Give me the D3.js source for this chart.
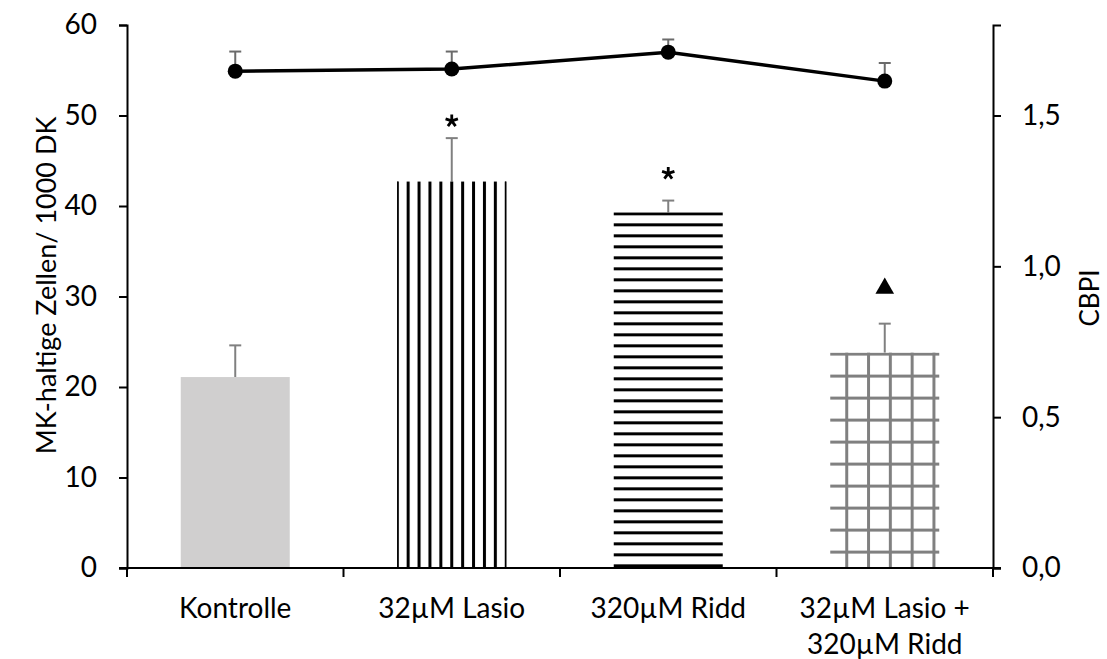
<!DOCTYPE html>
<html><head><meta charset="utf-8">
<script src="https://cdn.jsdelivr.net/npm/d3@7"></script>
<style>body{margin:0;background:#fff}text{font-family:Lato,"Open Sans",sans-serif;fill:#000}</style>
</head><body><svg id="c" width="1107" height="659"></svg>
<script>
const categories = [["Kontrolle"],["32µM Lasio"],["320µM Ridd"],["32µM Lasio +","320µM Ridd"]];
const barValues = [21.1, 42.7, 39.3, 23.8];
const barErrors = [3.5, 4.8, 1.3, 3.2];
const cbpiValues = [1.647, 1.654, 1.71, 1.614];
const cbpiErrors = [0.065, 0.058, 0.042, 0.06];
const marks = ["", "*", "*", "▲"];
const markLevels = [null, 49.4, 43.6, 30.9];
const leftTicks = [0,10,20,30,40,50,60];
const rightTicks = [0,0.5,1.0,1.5];

const svg = d3.select("#c");
const L = 127, R = 993, T = 25, B = 568;
const x = d3.scaleBand().domain(d3.range(categories.length)).range([L, R]).paddingInner(0).paddingOuter(0);
const yL = d3.scaleLinear().domain([0,60]).range([B, T]);
const yR = d3.scaleLinear().domain([0,1.8]).range([B, T]);
const bw = 109;
const cx = i => x(i) + x.bandwidth()/2;

const defs = svg.append("defs");
const pv = defs.append("pattern").attr("id","pv").attr("patternUnits","userSpaceOnUse")
  .attr("width",10.9).attr("height",20).attr("x", cx(1)-bw/2+9.4);
pv.append("rect").attr("x",0).attr("y",0).attr("width",3).attr("height",20).attr("fill","#000");
const ph = defs.append("pattern").attr("id","ph").attr("patternUnits","userSpaceOnUse")
  .attr("width",20).attr("height",11).attr("y", yL(barValues[2]));
ph.append("rect").attr("x",0).attr("y",0).attr("width",20).attr("height",3).attr("fill","#000");
const pg = defs.append("pattern").attr("id","pg").attr("patternUnits","userSpaceOnUse")
  .attr("width",21.8).attr("height",22).attr("x", cx(3)-bw/2+15).attr("y", yL(barValues[3]));
pg.append("rect").attr("x",0).attr("y",0).attr("width",3).attr("height",22).attr("fill","#808080");
pg.append("rect").attr("x",0).attr("y",0).attr("width",21.8).attr("height",3).attr("fill","#808080");
const fills = ["#d0cfcf","url(#pv)","url(#ph)","url(#pg)"];

barValues.forEach((v,i)=>{
  svg.append("line").attr("x1",cx(i)).attr("x2",cx(i)).attr("y1",yL(v)).attr("y2",yL(v+barErrors[i]))
    .attr("stroke","#808080").attr("stroke-width",2);
  svg.append("line").attr("x1",cx(i)-6).attr("x2",cx(i)+6).attr("y1",yL(v+barErrors[i])).attr("y2",yL(v+barErrors[i]))
    .attr("stroke","#808080").attr("stroke-width",2);
});
svg.selectAll("rect.bar").data(barValues).enter().append("rect").attr("class","bar")
  .attr("x",(d,i)=>cx(i)-bw/2).attr("width",bw)
  .attr("y",d=>yL(d)).attr("height",d=>B-yL(d)).attr("fill",(d,i)=>fills[i]);
[cx(1)-bw/2+0.5, cx(1)+bw/2-0.5].forEach(xx=>svg.append("line").attr("x1",xx).attr("x2",xx)
  .attr("y1",yL(barValues[1])).attr("y2",B).attr("stroke","#000").attr("stroke-width",1.2));

marks.forEach((m,i)=>{
  if(!m) return;
  const cy = yL(markLevels[i]);
  if(m==="*") {
    const r = 6.5;
    const d = d3.range(5).map(k=>{const a=-Math.PI/2+k*2*Math.PI/5;
      return `M${cx(i)},${cy}L${cx(i)+r*Math.cos(a)},${cy+r*Math.sin(a)}`;}).join("");
    svg.append("path").attr("d",d).attr("stroke","#000").attr("stroke-width",2.8).attr("stroke-linecap","butt").attr("fill","none");
  } else svg.append("path").attr("d",d3.symbol(d3.symbolTriangle,150)()).attr("fill","#000")
    .attr("transform",`translate(${cx(i)},${cy})`);
});

cbpiValues.forEach((v,i)=>{
  svg.append("line").attr("x1",cx(i)).attr("x2",cx(i)).attr("y1",yR(v)).attr("y2",yR(v+cbpiErrors[i]))
    .attr("stroke","#6b6b6b").attr("stroke-width",2);
  svg.append("line").attr("x1",cx(i)-6).attr("x2",cx(i)+6).attr("y1",yR(v+cbpiErrors[i])).attr("y2",yR(v+cbpiErrors[i]))
    .attr("stroke","#6b6b6b").attr("stroke-width",2);
});
svg.append("path").datum(cbpiValues).attr("fill","none").attr("stroke","#000").attr("stroke-width",3.5)
  .attr("d",d3.line().x((d,i)=>cx(i)).y(d=>yR(d)));
svg.selectAll("circle.pt").data(cbpiValues).enter().append("circle").attr("class","pt")
  .attr("cx",(d,i)=>cx(i)).attr("cy",d=>yR(d)).attr("r",7.5).attr("fill","#000");

const gl = svg.append("g").attr("transform",`translate(${L},0)`)
  .call(d3.axisLeft(yL).tickValues(leftTicks).tickSize(8).tickPadding(22).tickFormat(d3.format("d")));
const gr = svg.append("g").attr("transform",`translate(${R},0)`)
  .call(d3.axisRight(yR).tickValues(rightTicks).tickSize(8).tickPadding(21).tickFormat(d=>d3.format(".1f")(d).replace(".",",")));
const gx = svg.append("g").attr("transform",`translate(0,${B})`)
  .call(d3.axisBottom(x).tickSize(0).tickFormat(""));
[gl,gr,gx].forEach(g=>{g.selectAll("path.domain").attr("stroke","#000").attr("stroke-width",2);
  g.selectAll(".tick line").attr("stroke","#000").attr("stroke-width",2);
  g.selectAll("text").attr("font-size",28).attr("font-family","Lato,'Open Sans',sans-serif").attr("fill","#000");});
gx.select("path.domain").attr("d",`M${L-8},0H${R+8}`);
d3.range(categories.length+1).forEach(i=>{
  const xx = i<categories.length ? x(i) : R;
  svg.append("line").attr("x1",xx).attr("x2",xx).attr("y1",B).attr("y2",B+9).attr("stroke","#000").attr("stroke-width",2);
});
categories.forEach((lines,i)=>{
  const t = svg.append("text").attr("x",cx(i)).attr("y",B+50).attr("text-anchor","middle").attr("font-size",28);
  lines.forEach((s,j)=>t.append("tspan").attr("x",cx(i)).attr("dy",j?36:0).text(s));
});
svg.append("text").attr("transform",`translate(56,${(T+B)/2 - 11}) rotate(-90)`).attr("text-anchor","middle")
  .attr("font-size",27).text("MK-haltige Zellen/ 1000 DK");
svg.append("text").attr("transform",`translate(1099,298) rotate(-90)`).attr("text-anchor","middle")
  .attr("font-size",26).text("CBPI");
</script></body></html>
